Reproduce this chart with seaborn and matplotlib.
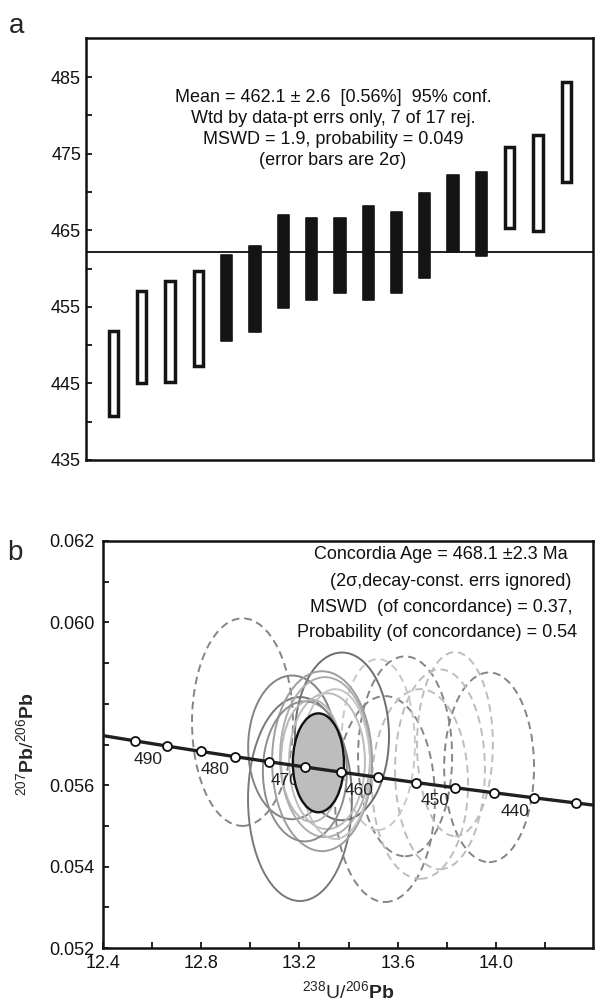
import numpy as np
import pandas as pd
import matplotlib
matplotlib.use("Agg")
import matplotlib.pyplot as plt
from matplotlib.patches import Ellipse
from matplotlib.ticker import FixedLocator
import seaborn as sns

# ---------------- panel a : weighted mean of 206Pb/238U ages ----------------
grain_pos = list(range(17))
age_low = [440.8, 445.1, 445.2, 447.3, 450.6, 451.7, 454.8, 455.9, 456.8, 455.9,
           456.8, 458.8, 462.1, 461.6, 465.3, 464.9, 471.3]
age_high = [451.9, 457.1, 458.4, 459.7, 461.7, 462.9, 467.0, 466.6, 466.6, 468.2,
            467.4, 469.9, 472.2, 472.6, 475.9, 477.4, 484.4]
rejected = [1, 1, 1, 1, 0, 0, 0, 0, 0, 0, 0, 0, 0, 0, 1, 1, 1]
mean_age = 462.1
a_major = [435, 445, 455, 465, 475, 485]
a_minor = [440, 450, 460, 470, 480]
a_text = ["Mean = 462.1 \u00b1 2.6  [0.56%]  95% conf.",
          "Wtd by data-pt errs only, 7 of 17 rej.",
          "MSWD = 1.9, probability = 0.049",
          "(error bars are 2\u03c3)"]

# ---------------- panel b : concordia ----------------
conc_age = [500, 495, 490, 485, 480, 475, 470, 465, 460, 455, 450, 445, 440, 435, 430]
conc_x = [12.3993, 12.5295, 12.6623, 12.7978, 12.9362, 13.0776, 13.2219, 13.3693,
          13.5199, 13.6738, 13.8312, 13.9921, 14.1566, 14.3250, 14.4972]
conc_y = [0.057219, 0.057090, 0.056960, 0.056831, 0.056703, 0.056575, 0.056448,
          0.056320, 0.056193, 0.056066, 0.055940, 0.055815, 0.055689, 0.055564, 0.055439]
label_ages = [490, 480, 470, 460, 450, 440]

# analysis error ellipses (centre, full width, full height)
ell_x = [12.968, 13.548, 13.630, 13.972, 13.772, 13.833, 13.691, 13.520,
         13.202, 13.373, 13.170, 13.304, 13.312, 13.292, 13.222, 13.345, 13.250]
ell_y = [0.05755, 0.05566, 0.05671, 0.05644, 0.05639, 0.05701, 0.05603, 0.05700,
         0.05566, 0.05720, 0.05693, 0.05669, 0.05659, 0.05659, 0.05634, 0.05652, 0.05660]
ell_w = [0.411, 0.407, 0.383, 0.366, 0.366, 0.309, 0.391, 0.300,
         0.423, 0.383, 0.358, 0.366, 0.309, 0.407, 0.342, 0.285, 0.250]
ell_h = [0.00510, 0.00506, 0.00491, 0.00466, 0.00491, 0.00452, 0.00466, 0.00420,
         0.00501, 0.00412, 0.00353, 0.00393, 0.00334, 0.00442, 0.00344, 0.00368, 0.00300]
ell_dashed = [1, 1, 1, 1, 1, 1, 1, 1, 0, 0, 0, 0, 0, 0, 0, 0, 0]
ell_color = ["#858585", "#858585", "#858585", "#858585", "#bdbdbd", "#bdbdbd", "#bdbdbd", "#c8c8c8",
             "#787878", "#6e6e6e", "#838383", "#adadad", "#bbbbbb", "#9e9e9e", "#8d8d8d", "#c4c4c4", "#b6b6b6"]
conc_ell = (13.277, 0.05655, 0.208, 0.00243)
b_text = ["Concordia Age = 468.1 \u00b12.3 Ma",
          "(2\u03c3,decay-const. errs ignored)",
          "MSWD  (of concordance) = 0.37,",
          "Probability (of concordance) = 0.54"]
b_xmajor = [12.4, 12.8, 13.2, 13.6, 14.0]
b_xminor = [12.6, 13.0, 13.4, 13.8, 14.2]
b_ymajor = [0.052, 0.054, 0.056, 0.058, 0.060, 0.062]
b_ylabels = ["0.052", "0.054", "0.056", "", "0.060", "0.062"]
b_yminor = [0.053, 0.055, 0.057, 0.059, 0.061]

sns.set_style("ticks")
plt.rcParams["font.family"] = ["Liberation Sans", "DejaVu Sans"]
plt.rcParams["mathtext.fontset"] = "custom"
plt.rcParams["mathtext.rm"] = "Liberation Sans"
plt.rcParams["mathtext.bf"] = "Liberation Sans:bold"

fig = plt.figure(figsize=(5.95, 10.05), dpi=100)
axA = fig.add_axes([0.1445, 0.5423, 0.852, 0.4199])
axB = fig.add_axes([0.1731, 0.0567, 0.8235, 0.405])

# ---------- panel a ----------
df = pd.DataFrame({"pos": grain_pos, "low": age_low, "high": age_high, "rej": rejected})
df["span"] = df["high"] - df["low"]
acc = df[df["rej"] == 0]
rej = df[df["rej"] == 1]
sns.barplot(data=acc, x="pos", y="span", bottom=acc["low"].to_numpy(), native_scale=True,
            width=0.40, color="#141414", saturation=1, errorbar=None, ax=axA,
            edgecolor="#141414", linewidth=1.2, joinstyle="round", zorder=3)
sns.barplot(data=rej, x="pos", y="span", bottom=rej["low"].to_numpy(), native_scale=True,
            width=0.33, fill=False, color="#141414", saturation=1, errorbar=None, ax=axA,
            linewidth=2.5, zorder=3)
axA.axhline(mean_age, color="#1e1e1e", lw=1.4, zorder=2)
axA.set_xlim(-0.97, 16.94)
axA.set_ylim(435, 490.1)
axA.set_xticks([])
axA.yaxis.set_major_locator(FixedLocator(a_major))
axA.yaxis.set_minor_locator(FixedLocator(a_minor))
axA.tick_params(axis="y", which="both", direction="in", length=4, width=1.3,
                labelsize=13, pad=3.5, colors="#111111")
axA.set_xlabel("")
axA.set_ylabel("")
for s in axA.spines.values():
    s.set_linewidth(1.8)
    s.set_color("#111111")
for txt, yy in zip(a_text, [0.860, 0.810, 0.759, 0.709]):
    axA.text(0.487, yy, txt, transform=axA.transAxes, ha="center", va="center",
             fontsize=13, color="#111111")
fig.text(0.028, 0.974, "a", fontsize=20, ha="center", va="center")

# ---------- panel b ----------
for x, y, w, h, d, c in zip(ell_x, ell_y, ell_w, ell_h, ell_dashed, ell_color):
    axB.add_patch(Ellipse((x, y), w, h, fill=False, edgecolor=c, lw=1.4,
                          linestyle=(0, (4, 2.5)) if d else "-", zorder=2))
for a in label_ages:
    i = conc_age.index(a)
    axB.annotate(str(a), (conc_x[i], conc_y[i]), xytext=(-14, -9.5), textcoords="offset points",
                 ha="center", va="center", fontsize=12.5, color="#222222", zorder=3)
cx, cy, cw, ch = conc_ell
axB.add_patch(Ellipse((cx, cy), cw, ch, facecolor="#bdbdbd", edgecolor="#111111", lw=1.7, zorder=4))
sns.lineplot(x=conc_x, y=conc_y, sort=False, estimator=None, color="#202020",
             linewidth=2.4, ax=axB, zorder=5)
sns.scatterplot(x=conc_x[1:14], y=conc_y[1:14], s=42, color="white", edgecolor="#111111",
                linewidth=1.3, ax=axB, zorder=6)
axB.set_xlim(12.4, 14.395)
axB.set_ylim(0.052, 0.062)
axB.xaxis.set_major_locator(FixedLocator(b_xmajor))
axB.xaxis.set_minor_locator(FixedLocator(b_xminor))
axB.set_xticklabels([f"{v:.1f}" for v in b_xmajor])
axB.yaxis.set_major_locator(FixedLocator(b_ymajor))
axB.yaxis.set_minor_locator(FixedLocator(b_yminor))
axB.set_yticklabels(b_ylabels)
axB.tick_params(axis="both", which="both", direction="in", length=4, width=1.3,
                labelsize=13, colors="#111111")
axB.tick_params(axis="y", pad=6)
axB.tick_params(axis="x", pad=5)
for s in axB.spines.values():
    s.set_linewidth(1.8)
    s.set_color("#111111")
for txt, xx, yy in zip(b_text, [0.690, 0.710, 0.690, 0.682], [0.9656, 0.8993, 0.8378, 0.7764]):
    axB.text(xx, yy, txt, transform=axB.transAxes, ha="center", va="center",
             fontsize=13, color="#111111", zorder=7)
axB.set_xlabel(r"$^{238}$U/$^{206}\mathbf{Pb}$", fontsize=14, labelpad=6)
axB.set_ylabel(r"$^{207}\mathbf{Pb}$/$^{206}\mathbf{Pb}$", fontsize=14, labelpad=8)
fig.text(0.025, 0.450, "b", fontsize=20, ha="center", va="center")

fig.savefig("out.png", dpi=100)
